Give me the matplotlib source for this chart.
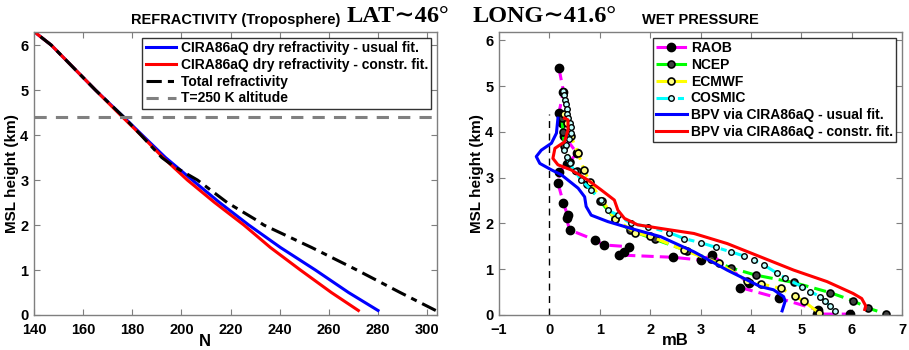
import matplotlib
matplotlib.use("Agg")
import matplotlib.pyplot as plt

plt.rcParams['font.family'] = ['Liberation Sans', 'DejaVu Sans']
plt.rcParams['font.weight'] = 'bold'

# ---------------- Left panel data (refractivity) ----------------
h_ref = [0.1, 0.5, 1.0, 1.5, 2.0, 2.5, 3.0, 3.5, 4.0, 4.4, 5.0, 5.5, 6.0, 6.3]
N_usual = [280, 268, 254.5, 240.3, 227.4, 215.5, 204.4, 193.5, 184, 176.5, 165, 156, 147, 140]
N_constr = [272, 261, 248.4, 236.2, 225.4, 213.5, 202.4, 192.5, 183.5, 176, 165, 156, 147, 140]
h_tot = [0.1, 0.5, 1.0, 1.5, 2.0, 2.1, 2.5, 3.0, 3.3, 3.5, 4.0, 4.4, 5.0, 5.5, 6.0, 6.3]
N_total = [303.5, 289, 271.4, 253, 233.5, 230.8, 218.6, 206.5, 197, 192, 183.5, 176.5, 165, 156, 147, 140]
h_T250 = 4.4

# ---------------- Right panel data (wet pressure) ----------------
raob_p = [0.19, 0.28, 0.19, 0.25, 0.30, 0.55, 0.35, 0.20, 0.17, 0.28, 0.36, 0.34, 0.40, 0.90, 1.08,
          1.59, 1.49, 1.39, 2.46, 3.00, 3.23, 3.96, 3.79, 4.55, 5.34, 5.31, 5.96]
raob_h = [5.39, 4.88, 4.42, 4.20, 3.90, 3.53, 3.30, 3.13, 2.88, 2.44, 2.18, 2.11, 1.86, 1.64, 1.53,
          1.49, 1.38, 1.31, 1.26, 1.20, 1.31, 0.69, 0.60, 0.37, 0.11, 0.02, 0.02]

ncep_p = [0.25, 0.27, 0.30, 0.40, 0.55, 0.75, 1.00, 1.30, 1.60, 2.10, 2.74, 3.20, 3.60, 4.10, 4.85, 5.57, 6.03, 6.33, 6.69]
ncep_h = [4.30, 4.00, 3.70, 3.35, 3.15, 2.85, 2.50, 2.10, 1.85, 1.65, 1.40, 1.22, 1.03, 0.87, 0.71, 0.49, 0.31, 0.15, 0.02]

ecmwf_p = [0.30, 0.35, 0.43, 0.57, 0.69, 0.80, 1.05, 1.30, 1.70, 2.00, 2.67, 3.36, 3.93, 4.20, 4.60, 4.88, 5.05, 5.35]
ecmwf_h = [4.40, 4.20, 3.90, 3.53, 3.17, 2.90, 2.50, 2.10, 1.80, 1.72, 1.42, 1.13, 0.75, 0.68, 0.58, 0.41, 0.30, 0.05]

cosmic_p = [0.28, 0.30, 0.32, 0.33, 0.34, 0.35, 0.37, 0.40, 0.42, 0.43, 0.38, 0.33, 0.30, 0.34, 0.40,
            0.50, 0.63, 0.83, 1.03, 1.16, 1.36, 1.62, 1.95, 2.38, 2.67, 3.00, 3.30, 3.60, 3.86, 4.06,
            4.26, 4.51, 4.68, 5.01, 5.18, 5.38, 5.47, 5.57, 5.67]
cosmic_h = [4.90, 4.80, 4.70, 4.60, 4.50, 4.40, 4.30, 4.20, 4.10, 3.97, 3.85, 3.72, 3.60, 3.46, 3.31,
            3.15, 2.95, 2.73, 2.51, 2.29, 2.18, 2.00, 1.93, 1.80, 1.67, 1.58, 1.48, 1.38, 1.29, 1.20,
            1.09, 0.92, 0.81, 0.62, 0.51, 0.40, 0.31, 0.20, 0.09]

bpv_usual_p = [0.17, 0.14, 0.04, -0.16, -0.26, -0.19, 0.04, 0.24, 0.57, 0.70, 0.73, 0.83, 1.16, 1.62,
               2.21, 2.87, 3.53, 4.19, 4.45, 4.65, 4.68, 4.62]
bpv_usual_h = [4.30, 3.97, 3.75, 3.60, 3.46, 3.31, 3.17, 3.06, 2.77, 2.58, 2.37, 2.18, 2.04, 1.89,
               1.71, 1.38, 0.98, 0.62, 0.55, 0.40, 0.30, 0.09]

bpv_constr_p = [0.30, 0.37, 0.37, 0.30, 0.11, 0.07, 0.17, 0.43, 0.76, 1.03, 1.29, 1.36, 1.49, 1.75,
                2.21, 2.87, 3.53, 4.19, 4.85, 5.51, 6.03, 6.20, 6.28, 6.26]
bpv_constr_h = [4.30, 4.26, 4.04, 3.78, 3.64, 3.42, 3.28, 3.17, 2.95, 2.73, 2.51, 2.29, 2.11, 1.97,
                1.89, 1.78, 1.56, 1.27, 0.98, 0.73, 0.47, 0.36, 0.20, 0.12]

zero_line_h = [0, 4.4]

# ---------------- Figure ----------------
fig = plt.figure(figsize=(9.09, 3.5), dpi=100)
ax1 = fig.add_axes([34/909, 1-315/350, (437-34)/909, (315-32)/350])
ax2 = fig.add_axes([499/909, 1-315/350, (902-499)/909, (315-32)/350])

lw = 2.2
spine_col = '#7f7f7f'

def style(ax):
    for s in ax.spines.values():
        s.set_color(spine_col)
        s.set_linewidth(1.0)
    ax.tick_params(direction='in', top=True, right=True, length=4, width=0.8,
                   color=spine_col, labelsize=10.5)
    ax.tick_params(axis='x', pad=6)
    ax.tick_params(axis='y', pad=4)
    for lab in ax.get_xticklabels() + ax.get_yticklabels():
        lab.set_fontweight('bold')

# Left panel
ax1.plot(N_usual, h_ref, color='#0000ff', lw=lw, label='CIRA86aQ dry refractivity - usual fit.')
ax1.plot(N_constr, h_ref, color='#ff0000', lw=lw, label='CIRA86aQ dry refractivity - constr. fit.')
ax1.plot(N_total, h_tot, color='black', lw=lw, ls=(0, (5, 2, 2, 2)), label='Total refractivity')
ax1.axhline(h_T250, color='#808080', lw=lw, ls=(0, (4, 3)), label='T=250 K altitude')
ax1.set_xlim(140, 304)
ax1.set_ylim(0, 6.29)
ax1.set_xticks(range(140, 301, 20))
ax1.set_yticks(range(0, 7))
style(ax1)
ax1.set_xlabel('N', fontsize=12, fontweight='bold', va='top')
ax1.xaxis.set_label_coords(0.424, -0.068)
ax1.set_ylabel('MSL height (km)', fontsize=11, fontweight='bold', labelpad=1)
ax1.set_title('REFRACTIVITY (Troposphere)', fontsize=10.5, fontweight='bold', pad=6)
leg1 = ax1.legend(loc='upper right', fontsize=10, frameon=True, fancybox=False,
                  edgecolor='black', handlelength=2.2, handletextpad=0.3, borderpad=0.25,
                  labelspacing=0.2, borderaxespad=0.4)
leg1.get_frame().set_linewidth(1.0)
for t in leg1.get_texts():
    t.set_fontweight('bold')

# Right panel
ax2.plot([0, 0], zero_line_h, color='black', lw=1.0, ls=(0, (5, 4)))
ax2.plot(raob_p, raob_h, color='#ff00ff', lw=lw, ls=(0, (4, 2)), marker='o', ms=6,
         mfc='black', mec='black', label='RAOB')
ax2.plot(ncep_p, ncep_h, color='#00ff00', lw=lw, ls=(0, (4, 2)), marker='o', ms=5,
         mfc='#404040', mec='black', mew=1.2, label='NCEP')
ax2.plot(ecmwf_p, ecmwf_h, color='#ffff00', lw=lw, ls=(0, (4, 2)), marker='o', ms=5,
         mfc='#ffff80', mec='black', mew=1.2, label='ECMWF')
ax2.plot(cosmic_p, cosmic_h, color='#00ffff', lw=lw, ls=(0, (5, 2, 2, 2)), marker='o', ms=4,
         mfc='#c0ffff', mec='black', mew=1.0, label='COSMIC')
ax2.plot(bpv_usual_p, bpv_usual_h, color='#0000ff', lw=lw, label='BPV via CIRA86aQ - usual fit.')
ax2.plot(bpv_constr_p, bpv_constr_h, color='#ff0000', lw=lw, label='BPV via CIRA86aQ - constr. fit.')
ax2.set_xlim(-1, 7)
ax2.set_ylim(0, 6.18)
ax2.set_xticks(range(-1, 8))
ax2.set_yticks(range(0, 7))
style(ax2)
ax2.set_xlabel('mB', fontsize=12, fontweight='bold', va='top')
ax2.xaxis.set_label_coords(0.437, -0.062)
ax2.set_ylabel('MSL height (km)', fontsize=11, fontweight='bold', labelpad=1)
ax2.set_title('WET PRESSURE', fontsize=10.5, fontweight='bold', pad=6)
leg2 = ax2.legend(loc='upper right', fontsize=10, frameon=True, fancybox=False,
                  edgecolor='black', handlelength=2.2, handletextpad=0.3, borderpad=0.25,
                  labelspacing=0.2, borderaxespad=0.4)
leg2.get_frame().set_linewidth(1.0)
for t in leg2.get_texts():
    t.set_fontweight('bold')

# Location annotation
fig.text(347/909, 1-22/350, 'LAT\u223c46\u00b0', fontsize=17.5, fontweight='bold',
         family=['Liberation Serif', 'DejaVu Serif'], ha='left', va='baseline')
fig.text(473/909, 1-22/350, 'LONG\u223c41.6\u00b0', fontsize=17.5, fontweight='bold',
         family=['Liberation Serif', 'DejaVu Serif'], ha='left', va='baseline')

fig.savefig('out.png', dpi=100)
